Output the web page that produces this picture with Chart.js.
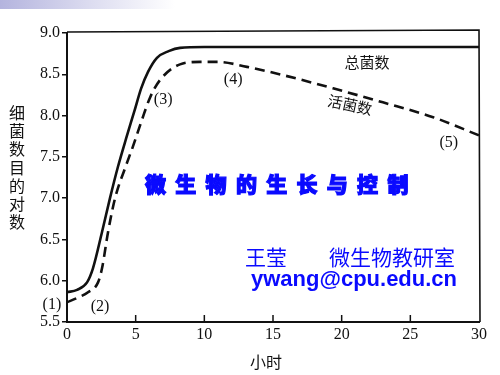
<!DOCTYPE html>
<html>
<head>
<meta charset="utf-8">
<script src="https://cdn.jsdelivr.net/npm/chart.js@4/dist/chart.umd.min.js"></script>
<style>
  html, body { margin: 0; padding: 0; background: #fff; }
  #wrap { position: relative; width: 500px; height: 375px; overflow: hidden; }
  #topbar { position: absolute; left: 0; top: 0; width: 500px; height: 9px;
    background: linear-gradient(to right, #b4b4de 0px, #dcdcf0 90px, #ffffff 175px); }
  canvas { position: absolute; left: 0; top: 0; }
  .blue { position: absolute; color: #0a0aff; white-space: nowrap; line-height: 1; }
  #title { left: 145px; top: 168px; font: 900 21px "Noto Sans CJK SC"; letter-spacing: 9.3px;
    -webkit-text-stroke: 1.2px #0a0aff; }
  #author { left: 245px; top: 241px; font: 21px "Noto Sans CJK SC"; }
  #mail { left: 251px; top: 266px; font: bold 22px "Liberation Sans", Arial, sans-serif; }
</style>
</head>
<body>
<div id="wrap">
  <div id="topbar"></div>
  <canvas id="growthChart" width="500" height="375"></canvas>
  <div class="blue" id="title">微生物的生长与控制</div>
  <div class="blue" id="author">王莹　　微生物教研室</div>
  <div class="blue" id="mail">ywang@cpu.edu.cn</div>
</div>
<script>
// 细菌生长曲线
const totalHours = [0, 0.73, 1.46, 1.89, 2.55, 3.13, 3.71, 4.3, 4.9, 5.4, 5.9, 6.55, 7.4, 8.23, 10, 15, 20, 25, 30];
const totalLog   = [5.86, 5.89, 5.98, 6.15, 6.59, 7.0, 7.38, 7.72, 8.05, 8.33, 8.53, 8.70, 8.78, 8.82, 8.83, 8.83, 8.83, 8.83, 8.83];

const viableHours = [0, 0.73, 1.53, 2.26, 2.55, 2.99, 3.5, 4.22, 4.81, 5.46, 6.05, 6.77, 8.23, 9.69, 11, 13.1, 15.73, 19.37, 23.0, 26.66, 30];
const viableLog   = [5.74, 5.79, 5.86, 5.98, 6.15, 6.59, 7.0, 7.36, 7.63, 7.95, 8.22, 8.43, 8.62, 8.65, 8.65, 8.59, 8.49, 8.33, 8.16, 7.98, 7.76];

const xTicks = [0, 5, 10, 15, 20, 25, 30];
const yTicks = [5.5, 6.0, 6.5, 7.0, 7.5, 8.0, 8.5, 9.0];

// 曲线上的标注
const noteText  = ['(1)', '(2)', '(3)', '(4)', '(5)', '总菌数', '活菌数'];
const noteHour  = [-1.1, 2.4, 7.0, 12.1, 27.8, 21.85, 20.6];
const noteLog   = [5.71, 5.69, 8.19, 8.43, 7.67, 8.64, 8.13];
const noteAngle = [0, 0, 0, 0, 0, 0, 12];

const yTitle = '细菌数目的对数';
const xTitle = '小时';

function toPoints(xs, ys) {
    return xs.map((x, i) => ({ x: x, y: ys[i] }));
}

const serif = '"Liberation Serif", "DejaVu Serif", serif';
const cjk = '"Noto Sans CJK SC", sans-serif';

// 上边框、右边框、向内刻度、标注文字
const extrasPlugin = {
    id: 'extras',
    afterDraw(chart) {
        const ctx = chart.ctx;
        const area = chart.chartArea;
        const xs = chart.scales.x;
        const ys = chart.scales.y;
        ctx.save();
        ctx.strokeStyle = '#111';
        ctx.lineWidth = 1.6;
        ctx.beginPath();
        ctx.moveTo(area.left, area.top - 1);
        ctx.lineTo(area.right, area.top - 3);
        ctx.lineTo(area.right + 1, area.bottom);
        ctx.stroke();

        ctx.lineWidth = 1.5;
        xTicks.forEach(t => {
            if (t === 0 || t === 30) return;
            const px = xs.getPixelForValue(t);
            ctx.beginPath();
            ctx.moveTo(px, area.bottom);
            ctx.lineTo(px, area.bottom - 7);
            ctx.stroke();
        });

        ctx.fillStyle = '#111';
        ctx.textAlign = 'center';
        ctx.textBaseline = 'middle';
        noteText.forEach((txt, i) => {
            const px = xs.getPixelForValue(noteHour[i]);
            const py = ys.getPixelForValue(noteLog[i]);
            ctx.save();
            ctx.translate(px, py);
            ctx.rotate(noteAngle[i] * Math.PI / 180);
            ctx.font = txt.startsWith('(') ? '16px ' + serif : '15px ' + cjk;
            ctx.fillText(txt, 0, 0);
            ctx.restore();
        });

        ctx.font = '16px ' + cjk;
        [...yTitle].forEach((ch, i) => {
            ctx.fillText(ch, 17, 113 + i * 18.2);
        });
        ctx.fillText(xTitle, area.left + 199, area.bottom + 40);
        ctx.restore();
    }
};

new Chart(document.getElementById('growthChart'), {
    type: 'line',
    data: {
        datasets: [
            {
                label: '总菌数',
                data: toPoints(totalHours, totalLog),
                borderColor: '#111',
                borderWidth: 2.6,
                pointRadius: 0,
                fill: false,
                cubicInterpolationMode: 'monotone'
            },
            {
                label: '活菌数',
                data: toPoints(viableHours, viableLog),
                borderColor: '#111',
                borderWidth: 2.6,
                borderDash: [10, 6],
                pointRadius: 0,
                fill: false,
                cubicInterpolationMode: 'monotone'
            }
        ]
    },
    options: {
        responsive: false,
        animation: false,
        layout: { padding: { top: 33, right: 21, left: 0, bottom: 0 } },
        plugins: {
            legend: { display: false },
            tooltip: { enabled: false }
        },
        scales: {
            x: {
                type: 'linear',
                min: 0,
                max: 30,
                afterFit: s => { s.height = 53; },
                afterBuildTicks: s => { s.ticks = xTicks.map(v => ({ value: v })); },
                grid: { display: true, drawOnChartArea: false, drawTicks: false },
                border: { color: '#111', width: 2 },
                ticks: {
                    color: '#111',
                    padding: 3,
                    font: { family: serif, size: 16 }
                }
            },
            y: {
                type: 'linear',
                min: 5.5,
                max: 9.0,
                afterFit: s => { s.width = 67; },
                afterBuildTicks: s => { s.ticks = yTicks.map(v => ({ value: v })); },
                grid: { drawOnChartArea: false, drawTicks: true, tickLength: 5, color: '#111', lineWidth: 1.5 },
                border: { color: '#111', width: 2 },
                ticks: {
                    color: '#111',
                    padding: 2,
                    font: { family: serif, size: 16 },
                    callback: v => v.toFixed(1)
                }
            }
        }
    },
    plugins: [extrasPlugin]
});
</script>
</body>
</html>
